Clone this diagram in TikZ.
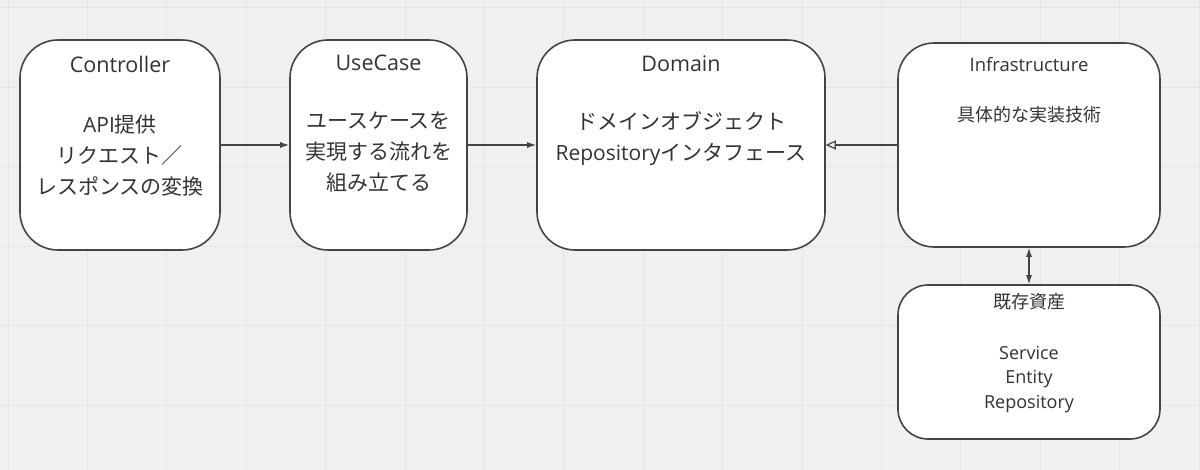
\documentclass[tikz,border=0pt]{standalone}
\usepackage{fontspec}
\setmainfont{Open Sans}
\newfontfamily\cjk{Noto Sans CJK JP}
\usetikzlibrary{arrows.meta}
\definecolor{bg}{HTML}{F0F0F0}
\definecolor{gridc}{HTML}{E4E4E4}
\definecolor{txt}{HTML}{333333}
\definecolor{edge}{HTML}{444444}
\tikzset{
  box/.style={draw=edge, line width=1.6pt, fill=white, inner sep=0pt},
  ttl/.style={text=txt, font=\fontsize{21.5}{24}\selectfont, inner sep=0pt, anchor=center},
  body/.style={text=txt, font=\fontsize{21}{31}\selectfont, align=center, inner sep=0pt, anchor=north},
  smallbody/.style={text=txt, font=\fontsize{18}{24.5}\selectfont, align=center, inner sep=0pt, anchor=north},
  conn/.style={draw=edge, line width=1.2pt},
}
\begin{document}
\begin{tikzpicture}[x=1pt,y=-1pt]
\fill[bg] (0,0) rectangle (1200,470);
\useasboundingbox (0,0) rectangle (1200,470);
\foreach \i in {0,...,15} {\draw[gridc, line width=1pt] ({8+\i*79.4},0) -- ({8+\i*79.4},470);}
\foreach \i in {0,...,5} {\draw[gridc, line width=1pt] (0,{8+\i*79.4}) -- (1200,{8+\i*79.4});}

\node[box, rounded corners=38pt, minimum width=200pt, minimum height=210pt] (ctrl) at (120,145) {};
\node[box, rounded corners=38pt, minimum width=177pt, minimum height=210pt] (uc) at (378.5,145) {};
\node[box, rounded corners=38pt, minimum width=288pt, minimum height=210pt] (dom) at (681,145) {};
\node[box, rounded corners=36pt, minimum width=262pt, minimum height=204pt] (infra) at (1029,145) {};
\node[box, rounded corners=30pt, minimum width=262pt, minimum height=154pt] (kizon) at (1029,362) {};

\node[ttl] (ctrlT) at (120,64) {Controller};
\node[body] (ctrlB) at (120,114.5) {API{\cjk 提供}\\{\cjk リクエスト／}\\{\cjk レスポンスの変換}};
\node[ttl] (ucT) at (378.5,63) {UseCase};
\node[body] (ucB) at (378.5,111.5) {{\cjk ユースケースを}\\{\cjk 実現する流れを}\\{\cjk 組み立てる}};
\node[ttl] (domT) at (681,64) {Domain};
\node[body] (domB) at (681,111.5) {{\cjk ドメインオブジェクト}\\Repository{\cjk インタフェース}};
\node[ttl, font=\fontsize{18.5}{20}\selectfont] (infraT) at (1029,65) {Infrastructure};
\node[smallbody, font=\cjk\fontsize{18}{24}\selectfont] (infraB) at (1029,106) {具体的な実装技術};
\node[smallbody, font=\cjk\fontsize{18}{24}\selectfont] (kizonT) at (1029,293) {既存資産};
\node[smallbody] (kizonB) at (1029,346) {Service\\Entity\\Repository};

\draw[conn, -{Latex[length=9pt,width=6pt]}] (ctrl.east) -- (uc.west);
\draw[conn, -{Latex[length=9pt,width=6pt]}] (uc.east) -- (dom.west);
\draw[conn, -{Triangle[open,length=10pt,width=9pt,line width=1.2pt]}] (infra.west) -- (dom.east);
\draw[conn, {Latex[length=9pt,width=6pt]}-{Latex[length=9pt,width=6pt]}] (infra.south) -- (kizon.north);
\end{tikzpicture}
\end{document}
